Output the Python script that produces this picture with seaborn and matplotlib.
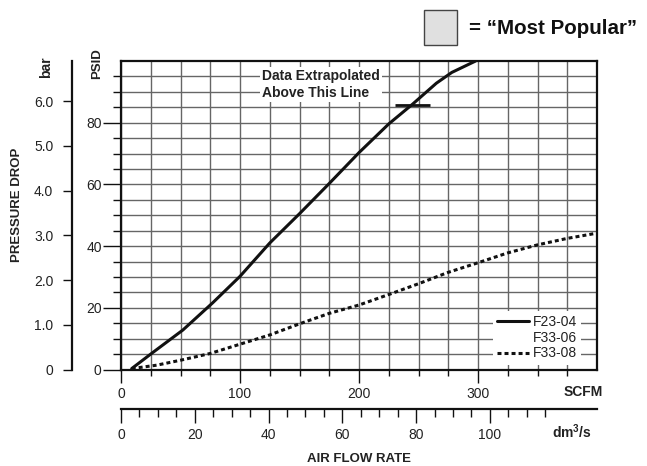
import numpy as np
import pandas as pd
import seaborn as sns
import matplotlib.pyplot as plt
from matplotlib.lines import Line2D
from matplotlib.patches import Rectangle
from matplotlib.ticker import FixedLocator

# curves (SCFM vs PSID)
f23_scfm = [9, 26, 52, 77, 100, 125, 150, 175, 200, 225, 245, 265, 278, 298]
f23_psid = [0.3, 5.3, 12.8, 21.6, 30.2, 41.0, 50.5, 60.3, 70.3, 79.6, 86.0, 92.8, 96.3, 100]

f33_scfm = [9, 30, 50, 75, 100, 125, 150, 175, 200, 225, 250, 275, 300, 325, 350, 375, 400]
f33_psid = [0.3, 1.4, 3.0, 5.2, 8.2, 11.2, 14.8, 18.2, 20.9, 24.3, 27.8, 31.5, 34.6, 37.8, 40.4, 42.5, 44.2]

legend_labels = ['F23-04', 'F33-06', 'F33-08']

# "data extrapolated" marker
extrap_scfm = [230, 260]
extrap_psid = 85.7

scfm_ticks = [0, 100, 200, 300]
psid_ticks = [0, 20, 40, 60, 80]
bar_ticks = [0, 1, 2, 3, 4, 5, 6]
bar_labels = ['0', '1.0', '2.0', '3.0', '4.0', '5.0', '6.0']
dm3_ticks = [0, 20, 40, 60, 80, 100]

PSI_PER_BAR = 14.5038
SCFM_PER_DM3 = 3.1

sns.set_style('white')
plt.rcParams['font.family'] = ['Liberation Sans', 'DejaVu Sans']
plt.rcParams['mathtext.fontset'] = 'custom'
plt.rcParams['mathtext.rm'] = 'Liberation Sans'
plt.rcParams['mathtext.bf'] = 'Liberation Sans:bold'

W, H = 647, 466
fig = plt.figure(figsize=(W / 100, H / 100), dpi=100)
ax = fig.add_axes([121 / W, (H - 369.5) / H, 476 / W, 308.5 / H])

df23 = pd.DataFrame({'scfm': f23_scfm, 'psid': f23_psid})
df33 = pd.DataFrame({'scfm': f33_scfm, 'psid': f33_psid})
sns.lineplot(data=df23, x='scfm', y='psid', color='#111', lw=2.2, sort=False, ax=ax, zorder=4)
sns.lineplot(data=df33, x='scfm', y='psid', color='#111', lw=2.2, sort=False, ax=ax, zorder=4,
             linestyle=(0, (1.3, 1.0)))
ax.hlines(extrap_psid, extrap_scfm[0], extrap_scfm[1], color='#111', lw=2.0, zorder=4)

ax.set_xlim(0, 400)
ax.set_ylim(0, 100)
ax.set_xlabel('')
ax.set_ylabel('')
ax.xaxis.set_major_locator(FixedLocator(scfm_ticks))
ax.xaxis.set_minor_locator(FixedLocator(np.arange(0, 400, 25)))
ax.yaxis.set_major_locator(FixedLocator(psid_ticks))
ax.yaxis.set_minor_locator(FixedLocator(np.arange(0, 100, 5)))
ax.grid(which='both', color='#666', lw=1.0)
ax.set_axisbelow(True)
for s in ax.spines.values():
    s.set_color('#111')
    s.set_linewidth(1.6)

ax.tick_params(axis='x', which='major', length=9.4, width=1, pad=3.5, labelsize=10, color='#111', bottom=True)
ax.tick_params(axis='x', which='minor', length=4.6, width=1, color='#111', bottom=True)
ax.tick_params(axis='y', which='major', length=12.7, width=1, pad=1.2, labelsize=10, color='#111', left=True)
ax.tick_params(axis='y', which='minor', length=5.5, width=1, color='#111', left=True)
ax.tick_params(labelcolor='#222')

# bar scale on the far left
secy = ax.secondary_yaxis(-49 / 476, functions=(lambda p: p / PSI_PER_BAR, lambda b: b * PSI_PER_BAR))
secy.set_yticks(bar_ticks)
secy.set_yticklabels(bar_labels)
secy.tick_params(length=6.5, width=1, pad=7, labelsize=10, color='#111', labelcolor='#222')
secy.spines['left'].set_linewidth(1.6)
secy.spines['left'].set_color('#111')

# dm3/s scale below
secx = ax.secondary_xaxis(-39 / 308.5, functions=(lambda s: s / SCFM_PER_DM3, lambda d: d * SCFM_PER_DM3))
secx.xaxis.set_major_locator(FixedLocator(dm3_ticks))
secx.xaxis.set_minor_locator(FixedLocator(np.arange(5, 120, 5)))
secx.tick_params(which='major', length=10, width=1, pad=4, labelsize=10, color='#111', labelcolor='#222')
secx.tick_params(which='minor', length=5.8, width=1, color='#111')
secx.spines['bottom'].set_linewidth(1.6)
secx.spines['bottom'].set_color('#111')

ax.text(118.5, 92.4, 'Data Extrapolated\nAbove This Line', ha='left', va='center',
        fontsize=10, fontweight='bold', color='#222', zorder=5,
        bbox=dict(fc='white', ec='none', pad=1.5))

handles = [Line2D([], [], color='#111', lw=2.2),
           Line2D([], [], ls='none'),
           Line2D([], [], color='#111', lw=2.2, linestyle=(0, (1.3, 1.0)))]
leg = ax.legend(handles, legend_labels, loc='upper left', bbox_to_anchor=(0.781, 0.19),
                borderaxespad=0, borderpad=0.3, fontsize=10, handlelength=2.3,
                handletextpad=0.29, labelspacing=0.12, frameon=True, fancybox=False,
                facecolor='white', edgecolor='none', framealpha=1)
for t in leg.get_texts():
    t.set_color('#222')


def ftext(x, y, s, **kw):
    fig.text(x / W, 1 - y / H, s, ha='center', va='center', fontweight='bold', color='#222', **kw)


ftext(583, 392, 'SCFM', fontsize=10)
ftext(572, 432, r'dm$\mathbf{^3}$/s', fontsize=10)
ftext(359, 459, 'AIR FLOW RATE', fontsize=9.5)
ftext(17, 205, 'PRESSURE DROP', fontsize=9.5, rotation=90)
ftext(97, 64, 'PSID', fontsize=9.5, rotation=90)
ftext(46, 67, 'bar', fontsize=10, rotation=90)

fig.patches.append(Rectangle((424 / W, 1 - 45 / H), 33 / W, 35 / H, transform=fig.transFigure,
                             fc='#e0e0e0', ec='#444', lw=1))
fig.text(469 / W, 1 - 28 / H, '= \u201cMost Popular\u201d', ha='left', va='center',
         fontsize=14.8, fontweight='bold', color='#111')

fig.savefig('out.png', dpi=100)
